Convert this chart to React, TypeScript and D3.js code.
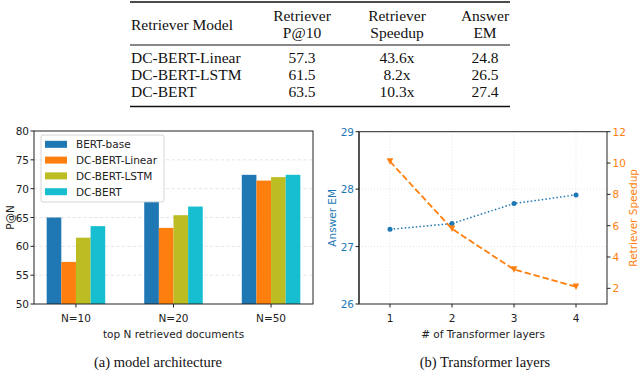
import React from 'react';
import * as d3 from 'd3';

// table data
const tableHeader1 = ['Retriever', 'Retriever', 'Answer'];
const tableHeader2 = ['P@10', 'Speedup', 'EM'];
const tableModels = ['DC-BERT-Linear', 'DC-BERT-LSTM', 'DC-BERT'];
const tableP10 = ['57.3', '61.5', '63.5'];
const tableSpeedup = ['43.6x', '8.2x', '10.3x'];
const tableEM = ['24.8', '26.5', '27.4'];

// (a) model architecture
const groups = ['N=10', 'N=20', 'N=50'];
const seriesNames = ['BERT-base', 'DC-BERT-Linear', 'DC-BERT-LSTM', 'DC-BERT'];
const bertBase = [65.0, 67.8, 72.4];
const dcLinear = [57.3, 63.2, 71.4];
const dcLstm = [61.5, 65.4, 72.0];
const dcBert = [63.5, 66.9, 72.4];
const pTicks = [50, 55, 60, 65, 70, 75, 80];

// (b) transformer layers
const layers = [1, 2, 3, 4];
const answerEM = [27.3, 27.4, 27.75, 27.9];
const speedup = [10.1, 5.8, 3.2, 2.1];
const emTicks = [26, 27, 28, 29];
const spTicks = [2, 4, 6, 8, 10, 12];

const BLUE = '#1f77b4';
const ORANGE = '#ff7f0e';
const colors = ['#1f77b4', '#ff7f0e', '#bcbd22', '#17becf'];
const SANS = 'DejaVu Sans, sans-serif';
const SERIF = 'Liberation Serif, Times New Roman, serif';

function Table() {
  const colX = [302, 397, 485];
  const rowY = [57.5, 74.5, 91.5];
  return (
    <g fontFamily={SERIF} fontSize={15.5} fill="#111">
      <line x1={130} x2={510} y1={2} y2={2} stroke="#111" strokeWidth={1.5} />
      <line x1={130} x2={510} y1={45} y2={45} stroke="#111" strokeWidth={1} />
      <line x1={130} x2={510} y1={106.5} y2={106.5} stroke="#111" strokeWidth={1.5} />
      <text x={131} y={24} dominantBaseline="central">Retriever Model</text>
      {colX.map((x, i) => (
        <g key={i} textAnchor="middle">
          <text x={x} y={15.5} dominantBaseline="central">{tableHeader1[i]}</text>
          <text x={x} y={32} dominantBaseline="central">{tableHeader2[i]}</text>
        </g>
      ))}
      {tableModels.map((m, r) => (
        <g key={m}>
          <text x={131} y={rowY[r]} dominantBaseline="central">{m}</text>
          <text x={colX[0]} y={rowY[r]} textAnchor="middle" dominantBaseline="central">{tableP10[r]}</text>
          <text x={colX[1]} y={rowY[r]} textAnchor="middle" dominantBaseline="central">{tableSpeedup[r]}</text>
          <text x={colX[2]} y={rowY[r]} textAnchor="middle" dominantBaseline="central">{tableEM[r]}</text>
        </g>
      ))}
    </g>
  );
}

function BarPanel() {
  const left = 34, right = 313, top = 131, bottom = 304;
  const x = d3.scaleLinear().domain([-0.43, 2.43]).range([left, right]);
  const y = d3.scaleLinear().domain([50, 80]).range([bottom, top]);
  const series = [bertBase, dcLinear, dcLstm, dcBert];
  const bw = 0.15;
  return (
    <g fontFamily={SANS} fontSize={10.5} fill="#222">
      {pTicks.slice(1, -1).map(t => (
        <line key={t} x1={left} x2={right} y1={y(t)} y2={y(t)} stroke="#ddd" strokeWidth={0.8} strokeDasharray="3,2.5" />
      ))}
      {series.map((vals, j) =>
        vals.map((v, i) => (
          <rect key={`${j}-${i}`} x={x(i - 0.3 + j * bw)} width={x(bw) - x(0)} y={y(v)} height={bottom - y(v)} fill={colors[j]} />
        ))
      )}
      <rect x={left} y={top} width={right - left} height={bottom - top} fill="none" stroke="#222" strokeWidth={1} />
      {pTicks.map(t => (
        <g key={t}>
          <line x1={left - 3.5} x2={left} y1={y(t)} y2={y(t)} stroke="#222" />
          <text x={left - 5} y={y(t)} textAnchor="end" dominantBaseline="central">{t}</text>
        </g>
      ))}
      {groups.map((g, i) => (
        <g key={g}>
          <line x1={x(i)} x2={x(i)} y1={bottom} y2={bottom + 3.5} stroke="#222" />
          <text x={x(i)} y={bottom + 14} textAnchor="middle" dominantBaseline="central">{g}</text>
        </g>
      ))}
      <text x={(left + right) / 2} y={334} textAnchor="middle" dominantBaseline="central">top N retrieved documents</text>
      <text transform={`translate(10,${(top + bottom) / 2}) rotate(-90)`} textAnchor="middle" dominantBaseline="central">P@N</text>
      <rect x={41} y={135} width={123} height={67} rx={2} fill="white" fillOpacity={0.8} stroke="#ccc" strokeWidth={0.8} />
      {seriesNames.map((n, j) => (
        <g key={n}>
          <rect x={45} y={144.3 + j * 15.8 - 3.5} width={22} height={7} fill={colors[j]} />
          <text x={76} y={144.3 + j * 15.8} dominantBaseline="central">{n}</text>
        </g>
      ))}
      <text x={158} y={362} fontFamily={SERIF} fontSize={14.5} fill="#111" textAnchor="middle" dominantBaseline="central">(a) model architecture</text>
    </g>
  );
}

function LinePanel() {
  const left = 359, right = 607, top = 131.7, bottom = 304;
  const x = d3.scaleLinear().domain([0.5, 4.5]).range([left, right]);
  const yL = d3.scaleLinear().domain([26, 29]).range([bottom, top]);
  const yR = d3.scaleLinear().domain([1, 12]).range([bottom, top]);
  const emLine = d3.line<number>().x((_, i) => x(layers[i])).y(d => yL(d));
  const spLine = d3.line<number>().x((_, i) => x(layers[i])).y(d => yR(d));
  const tri = (cx: number, cy: number, s: number) => `M${cx - s},${cy - s}L${cx + s},${cy - s}L${cx},${cy + s}Z`;
  return (
    <g fontFamily={SANS} fontSize={10.5}>
      {layers.map(l => (
        <line key={l} x1={x(l)} x2={x(l)} y1={top} y2={bottom} stroke="#ddd" strokeWidth={0.8} strokeDasharray="1,2" />
      ))}
      {[27, 28].map(t => (
        <line key={t} x1={left} x2={right} y1={yL(t)} y2={yL(t)} stroke="#ddd" strokeWidth={0.8} strokeDasharray="1,2" />
      ))}
      <path d={emLine(answerEM) || ''} fill="none" stroke={BLUE} strokeWidth={1.5} strokeDasharray="1.5,2.2" />
      {answerEM.map((v, i) => (
        <circle key={i} cx={x(layers[i])} cy={yL(v)} r={2.5} fill={BLUE} />
      ))}
      <path d={spLine(speedup) || ''} fill="none" stroke={ORANGE} strokeWidth={1.8} strokeDasharray="6.5,2.8" />
      {speedup.map((v, i) => (
        <path key={i} d={tri(x(layers[i]), yR(v), 3.3)} fill={ORANGE} />
      ))}
      <rect x={left} y={top} width={right - left} height={bottom - top} fill="none" stroke="#222" strokeWidth={1} />
      <line x1={left} x2={left} y1={top} y2={bottom} stroke="#444" strokeWidth={1.6} />
      {emTicks.map(t => (
        <g key={t}>
          <line x1={left - 3.5} x2={left} y1={yL(t)} y2={yL(t)} stroke="#222" />
          <text x={left - 5} y={yL(t)} textAnchor="end" dominantBaseline="central" fill={BLUE}>{t}</text>
        </g>
      ))}
      {spTicks.map(t => (
        <g key={t}>
          <line x1={right} x2={right + 3.5} y1={yR(t)} y2={yR(t)} stroke="#222" />
          <text x={right + 5.5} y={yR(t)} dominantBaseline="central" fill={ORANGE}>{t}</text>
        </g>
      ))}
      {layers.map(l => (
        <g key={l}>
          <line x1={x(l)} x2={x(l)} y1={bottom} y2={bottom + 3.5} stroke="#222" />
          <text x={x(l)} y={bottom + 14} textAnchor="middle" dominantBaseline="central" fill="#222">{l}</text>
        </g>
      ))}
      <text x={(left + right) / 2} y={334} textAnchor="middle" dominantBaseline="central" fill="#222"># of Transformer layers</text>
      <text transform={`translate(332,${(top + bottom) / 2}) rotate(-90)`} textAnchor="middle" dominantBaseline="central" fill={BLUE}>Answer EM</text>
      <text transform={`translate(633,${(top + bottom) / 2}) rotate(-90)`} textAnchor="middle" dominantBaseline="central" fill={ORANGE}>Retriever Speedup</text>
      <text x={485} y={362} fontFamily={SERIF} fontSize={14.5} fill="#111" textAnchor="middle" dominantBaseline="central">(b) Transformer layers</text>
    </g>
  );
}

export default function App() {
  return (
    <div style={{ position: 'fixed', left: 0, top: 0 }}>
      <svg width={640} height={378} style={{ display: 'block', background: 'white' }}>
        <Table />
        <BarPanel />
        <LinePanel />
      </svg>
    </div>
  );
}
